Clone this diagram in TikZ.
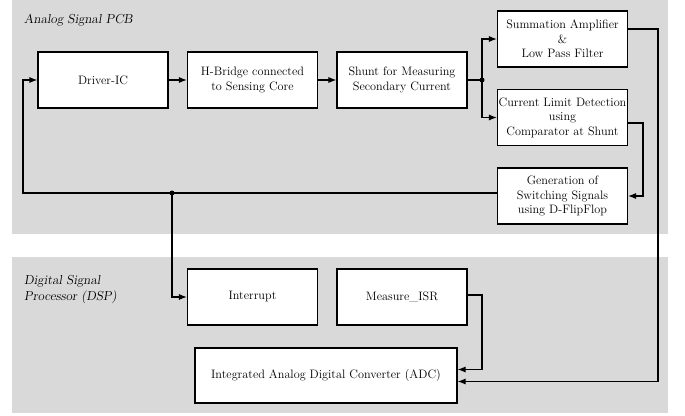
\documentclass[tikz,border=0pt]{standalone}
\usetikzlibrary{arrows.meta,calc}
\definecolor{panel}{HTML}{D9D9D9}
\tikzset{
  blk/.style={draw=black, fill=white, line width=1.1pt, minimum width=130pt, minimum height=56pt,
    align=center, inner sep=1pt, font=\fontsize{12.2}{14.5}\selectfont},
  conn/.style={line width=1.1pt, -{Latex[length=8pt,width=6pt]}},
  plain/.style={line width=1.1pt},
  jdot/.style={circle, fill=black, inner sep=0pt, minimum size=5pt},
  ttl/.style={anchor=north west, align=left, font=\fontsize{13}{16.5}\selectfont\slshape, inner sep=0pt}
}
\begin{document}
\begin{tikzpicture}[x=1pt,y=-1pt]
\useasboundingbox (0,0) rectangle (685,415);
\fill[panel] (12,0) rectangle (668,234);
\fill[panel] (12,257) rectangle (668,413);
\node[ttl] (t1) at (24,14) {Analog Signal PCB};
\node[ttl] (t2) at (24,275) {Digital Signal\\Processor (DSP)};

\node[blk] (drv) at (103,80) {Driver-IC};
\node[blk] (hb) at (252.5,80) {H-Bridge connected\\to Sensing Core};
\node[blk] (sh) at (402,80) {Shunt for Measuring\\Secondary Current};
\node[blk] (sum) at (562.5,39) {Summation Amplifier\\\&\\Low Pass Filter};
\node[blk] (cl) at (562.5,117.5) {Current Limit Detection\\using\\Comparator at Shunt};
\node[blk] (gen) at (562.5,196) {Generation of\\Switching Signals\\using D-FlipFlop};
\node[blk] (irq) at (252.5,297) {Interrupt};
\node[blk] (isr) at (402,297) {Measure\_ISR};
\node[blk, minimum width=262pt, minimum height=55pt] (adc) at (326,375.5) {Integrated Analog Digital Converter (ADC)};

\coordinate (j1) at (482,80);
\coordinate (j2) at (172,193);
\coordinate (c1) at (658,29);
\coordinate (c2) at (643,123);
\coordinate (c3) at (23,193);
\coordinate (c4) at (482,295);

\draw[conn] (drv) -- (hb);
\draw[conn] (hb) -- (sh);
\draw[plain] (sh.east) -- (j1);
\draw[conn] (j1) |- (sum.west);
\draw[conn] (j1) |- (cl.west);
\node[jdot] at (j1) {};
\draw[conn] (sum.east |- c1) -- (c1) |- ([yshift=-6pt]adc.east);
\draw[conn] (cl.east |- c2) -- (c2) |- (gen.east);
\draw[conn] (gen.west |- c3) -- (c3) |- (drv.west);
\draw[conn] (j2) |- (irq.west);
\node[jdot] at (j2) {};
\draw[conn] (isr.east |- c4) -- (c4) |- ([yshift=6pt]adc.east);
\end{tikzpicture}
\end{document}
